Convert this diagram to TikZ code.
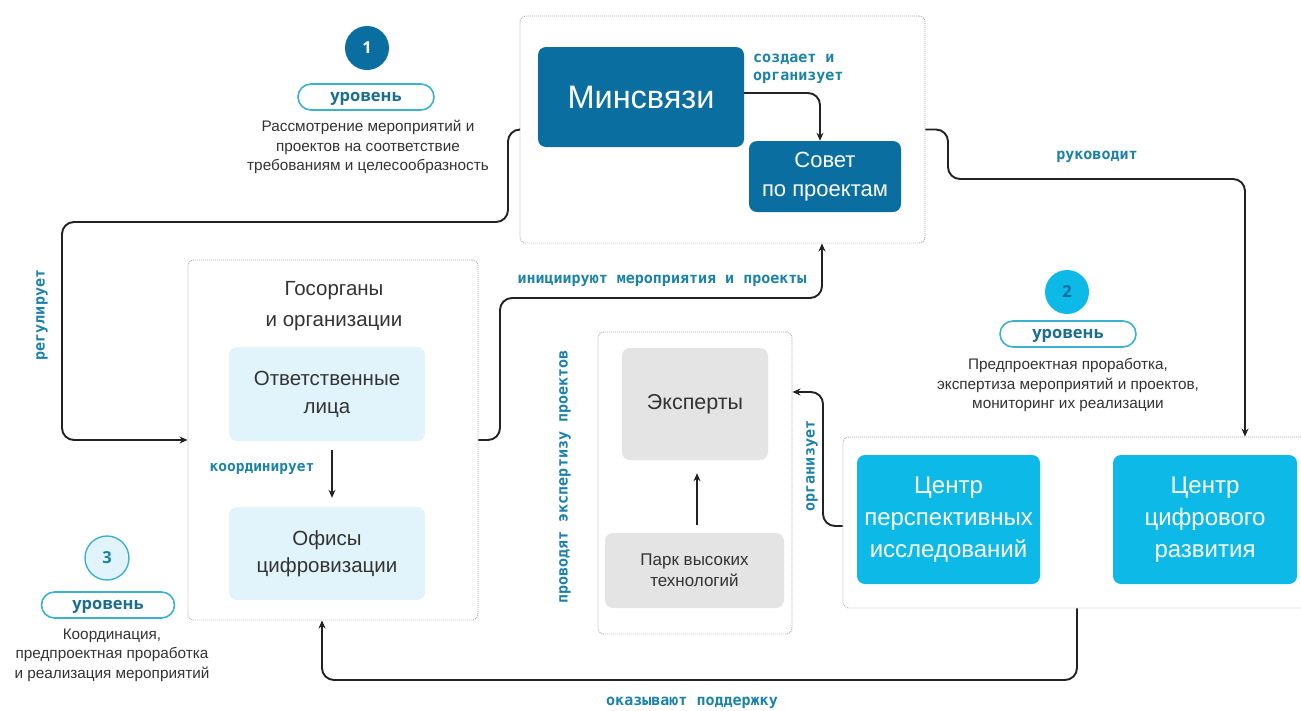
\documentclass[tikz,border=0pt]{standalone}
\usepackage{fontspec}
\setmainfont{Liberation Sans}
\newfontfamily\lblfont{DejaVu Sans Mono}
\newfontfamily\lvlfont{Open Sans}
\usetikzlibrary{arrows.meta,calc}
\definecolor{dblue}{HTML}{0A6EA0}
\definecolor{cyanb}{HTML}{0DB9E6}
\definecolor{lblue}{HTML}{E2F4FB}
\definecolor{lgray}{HTML}{E4E4E4}
\definecolor{lblc}{HTML}{1B82A8}
\definecolor{pillc}{HTML}{3DB2CF}
\definecolor{lvltext}{HTML}{1A6E8E}
\definecolor{dtext}{HTML}{333333}
\definecolor{linec}{HTML}{222222}
\definecolor{dotc}{HTML}{A8A8A8}
\begin{document}
\begin{tikzpicture}[x=1pt,y=-1pt,
  box/.style={rounded corners=8pt, inner sep=0pt, align=center, anchor=center},
  dotbox/.style={draw=dotc, dash pattern=on 0.9pt off 1.1pt, line width=0.9pt, rounded corners=6pt, inner sep=0pt, anchor=center},
  lbl/.style={font=\lblfont\bfseries\fontsize{15}{18}\selectfont, text=lblc, inner sep=0pt},
  arr/.style={-{Stealth[length=8pt,width=7pt]}, line width=1.9pt, draw=linec, rounded corners=12pt},
  pill/.style={draw=pillc, line width=1.6pt, rounded corners=13pt, minimum height=26pt, inner sep=0pt, text height=8.8pt, text depth=0pt, font=\lvlfont\bfseries\fontsize{16.5}{18}\selectfont, text=lvltext},
  desc/.style={align=center, font=\fontsize{15.3}{19.5}\selectfont, text=dtext, inner sep=0pt},
  lvl/.style={circle, minimum size=44pt, inner sep=0pt, font=\lvlfont\bfseries\fontsize{16.5}{18}\selectfont}
]
\useasboundingbox[fill=white] (0,0) rectangle (1301,710);

% ---------- level 1 ----------
\node[lvl, fill=dblue, text=white] (c1) at (367,48) {1};
\node[pill, minimum width=136pt] (p1) at (366,97) {уровень};
\node[desc] (d1) at (368,147) {Рассмотрение мероприятий и\\проектов на соответствие\\требованиям и целесообразность};

% ---------- level 2 ----------
\node[lvl, fill=cyanb, text=dblue] (c2) at (1067,292) {2};
\node[pill, minimum width=136pt] (p2) at (1068,334) {уровень};
\node[desc] (d2) at (1068,385) {Предпроектная проработка,\\экспертиза мероприятий и проектов,\\мониторинг их реализации};

% ---------- level 3 ----------
\node[lvl, fill=lblue, draw=pillc, line width=1.4pt, text=lblc] (c3) at (107,558) {3};
\node[pill, minimum width=133pt] (p3) at (108,605) {уровень};
\node[desc] (d3) at (112,655) {Координация,\\предпроектная проработка\\и реализация мероприятий};

% ---------- Минсвязи group ----------
\node[dotbox, minimum width=405pt, minimum height=227pt] (minout) at (722.5,129.5) {};
\node[box, fill=dblue, text=white, minimum width=206pt, minimum height=100pt, font=\fontsize{32.5}{36}\selectfont] (minsv) at (641,97) {Минсвязи};
\node[box, fill=dblue, text=white, minimum width=152pt, minimum height=71pt, font=\fontsize{22}{29}\selectfont] (sovet) at (825,176.5) {Совет\\по проектам};

% ---------- Госорганы group ----------
\node[dotbox, minimum width=290pt, minimum height=360pt] (gos) at (333,440) {};
\node[align=center, font=\fontsize{20.5}{31}\selectfont, text=dtext, inner sep=0pt] (gostitle) at (334,306) {Госорганы\\и организации};
\node[box, fill=lblue, text=dtext, minimum width=196pt, minimum height=94pt, font=\fontsize{20.5}{28}\selectfont] (otv) at (327,394) {Ответственные\\лица};
\node[box, fill=lblue, text=dtext, minimum width=196pt, minimum height=93pt, font=\fontsize{20.5}{27}\selectfont] (ofis) at (327,553.5) {Офисы\\цифровизации};

% ---------- Experts group ----------
\node[dotbox, minimum width=194pt, minimum height=302pt] (expout) at (695,483) {};
\node[box, fill=lgray, text=dtext, minimum width=146pt, minimum height=112pt, font=\fontsize{21.5}{24}\selectfont] (eksp) at (695,404) {Эксперты};
\node[box, fill=lgray, text=dtext, minimum width=179pt, minimum height=75pt, font=\fontsize{17}{21}\selectfont] (park) at (694.5,570.5) {Парк высоких\\технологий};

% ---------- Centers group ----------
\node[dotbox, minimum width=470pt, minimum height=171pt] (cout) at (1078,522.5) {};
\node[box, fill=cyanb, text=white, minimum width=183pt, minimum height=129pt, font=\fontsize{24}{32}\selectfont] (cpi) at (948.5,519.5) {Центр\\перспективных\\исследований};
\node[box, fill=cyanb, text=white, minimum width=184pt, minimum height=129pt, font=\fontsize{24}{32}\selectfont] (ccr) at (1205,519.5) {Центр\\цифрового\\развития};

% ---------- connectors ----------
\draw[arr] ([yshift=4pt]minsv.east) -| ([xshift=-5pt]sovet.north);
\node[lbl, anchor=west, align=left] (l1) at (753,69) {создает и\\организует};

\coordinate (rk1) at (948,129.5);
\coordinate (rk2) at (1245,179);
\draw[arr] (minout.east) -- (rk1) |- (rk2) -- (1245,0 |- cout.north);
\node[lbl] (l2) at (1097,157) {руководит};

\coordinate (rg1) at (508,129.5);
\coordinate (rg2) at (62,222);
\draw[arr] (minout.west) -- (rg1) |- (rg2) |- (gos.west);
\node[lbl, rotate=90] (l3) at (42,315) {регулирует};

\coordinate (in1) at (500,298);
\draw[arr] (gos.east) -| (in1) -| (822,0 |- minout.south);
\node[lbl] (l4) at (662,281) {инициируют мероприятия и проекты};

\draw[arr, shorten <=9pt, shorten >=9pt] ([xshift=5pt]otv.south) -- ([xshift=5pt]ofis.north);
\node[lbl, font=\lblfont\bfseries\fontsize{14.5}{16}\selectfont] (l5) at (262,469) {координирует};

\draw[arr, shorten <=8pt, shorten >=13pt] ([xshift=2.5pt]park.north) -- ([xshift=2pt]eksp.south);

\coordinate (or1) at (823,526);
\draw[arr] (cout.west |- or1) -- (or1) |- (expout.east |- 0,392);
\node[lbl, rotate=90] (l6) at (812,466) {организует};

\coordinate (ok1) at (1077,680);
\draw[arr] (1077,0 |- cout.south) -- (ok1) -| (322,0 |- gos.south);
\node[lbl] (l7) at (692,703) {оказывают поддержку};

\node[lbl, rotate=90] (l8) at (565,477) {проводят экспертизу проектов};
\end{tikzpicture}
\end{document}
